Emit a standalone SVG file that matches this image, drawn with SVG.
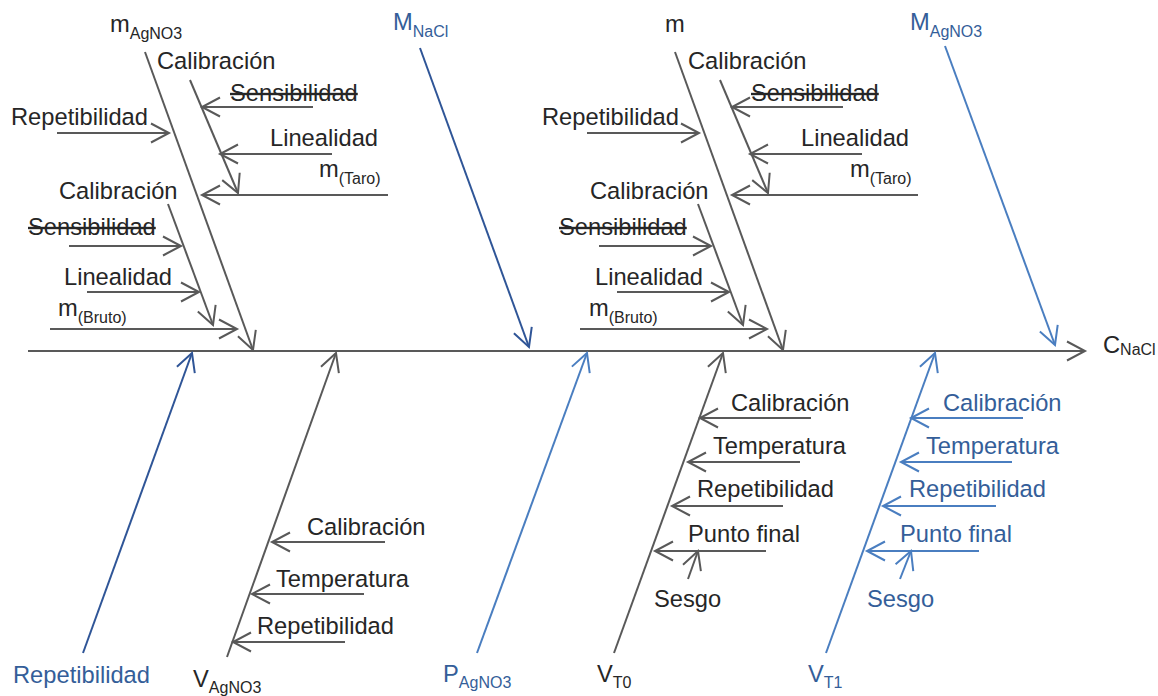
<svg xmlns="http://www.w3.org/2000/svg" width="1158" height="696" viewBox="0 0 1158 696">
<style>
.t{font-family:"Liberation Sans",Arial,sans-serif;font-size:23.7px;fill:#262626}
.b{fill:#345E99}
.s{font-size:16px}
.k{text-decoration:line-through}
.g{stroke:#595959;stroke-width:2;fill:none}
.db{stroke:#2F5597;stroke-width:2;fill:none}
.lb{stroke:#4A7EC0;stroke-width:2;fill:none}
.g{marker-end:url(#ag)}
.db{marker-end:url(#adb)}
.lb{marker-end:url(#alb)}
</style>
<defs>
<marker id="ag" markerUnits="userSpaceOnUse" markerWidth="22" markerHeight="22" viewBox="0 0 22 22" refX="19" refY="11" orient="auto"><path d="M1,1.5 L19,11 L1,20.5" fill="none" stroke="#595959" stroke-width="2"/></marker>
<marker id="adb" markerUnits="userSpaceOnUse" markerWidth="22" markerHeight="22" viewBox="0 0 22 22" refX="19" refY="11" orient="auto"><path d="M1,1.5 L19,11 L1,20.5" fill="none" stroke="#2F5597" stroke-width="2"/></marker>
<marker id="alb" markerUnits="userSpaceOnUse" markerWidth="22" markerHeight="22" viewBox="0 0 22 22" refX="19" refY="11" orient="auto"><path d="M1,1.5 L19,11 L1,20.5" fill="none" stroke="#4A7EC0" stroke-width="2"/></marker>
</defs>
<rect width="1158" height="696" fill="#ffffff"/>
<g id="connectors">
<path class="g" d="M28,351 L1085,351"/>
<path class="g" d="M145,52 L253,350"/>
<path class="g" d="M190,80 L238,193"/>
<path class="g" d="M313,107 L202,107"/>
<path class="g" d="M332,154 L220,154"/>
<path class="g" d="M388,195 L202,195"/>
<path class="g" d="M57,133 L169,133"/>
<path class="g" d="M168,204 L213,325"/>
<path class="g" d="M69,246 L181,246"/>
<path class="g" d="M87,292 L199,292"/>
<path class="g" d="M50,329 L237,329"/>
<path class="g" d="M675,52 L783,350"/>
<path class="g" d="M720,80 L768,193"/>
<path class="g" d="M843,107 L732,107"/>
<path class="g" d="M862,154 L750,154"/>
<path class="g" d="M918,195 L732,195"/>
<path class="g" d="M587,133 L699,133"/>
<path class="g" d="M698,204 L743,325"/>
<path class="g" d="M599,246 L711,246"/>
<path class="g" d="M617,292 L729,292"/>
<path class="g" d="M580,329 L767,329"/>
<path class="db" d="M420,48 L529,347"/>
<path class="lb" d="M945,46 L1055,345"/>
<path class="db" d="M83,653 L192,353"/>
<path class="g" d="M227,657 L336,353"/>
<path class="g" d="M385,542 L272,542"/>
<path class="g" d="M364,594 L252,594"/>
<path class="g" d="M345,642 L233,642"/>
<path class="lb" d="M477,653 L587,353"/>
<path class="g" d="M614,653 L723,353"/>
<path class="g" d="M811,418 L700,418"/>
<path class="g" d="M800,462 L688,462"/>
<path class="g" d="M783,506 L672,506"/>
<path class="g" d="M766,551 L655,551"/>
<path class="g" d="M688,579 L698,551"/>
<path class="lb" d="M826,653 L935,353"/>
<path class="lb" d="M1023,418 L911,418"/>
<path class="lb" d="M1012,462 L901,462"/>
<path class="lb" d="M996,506 L883,506"/>
<path class="lb" d="M979,551 L867,551"/>
<path class="lb" d="M900,579 L911,551"/>
</g>
<g id="n-cnacl"><text class="t" x="1103" y="353">C<tspan class="s" dy="2">NaCl</tspan></text></g>
<g id="n-magno3"><text class="t" x="110" y="32">m<tspan class="s" dy="7">AgNO3</tspan></text></g>
<g id="n-mag-cal"><text class="t" x="157" y="69">Calibración</text></g>
<g id="n-mag-sens"><text class="t k" x="230" y="101">Sensibilidad</text></g>
<g id="n-mag-lin"><text class="t" x="270" y="146">Linealidad</text></g>
<g id="n-mag-taro"><text class="t" x="319" y="177">m<tspan class="s" dy="7">(Taro)</tspan></text></g>
<g id="n-mag-rep"><text class="t" x="11" y="125">Repetibilidad</text></g>
<g id="n-mag-cal2"><text class="t" x="59" y="199">Calibración</text></g>
<g id="n-mag-sens2"><text class="t k" x="28" y="235">Sensibilidad</text></g>
<g id="n-mag-lin2"><text class="t" x="64" y="285">Linealidad</text></g>
<g id="n-mag-bruto"><text class="t" x="58" y="316">m<tspan class="s" dy="7">(Bruto)</tspan></text></g>
<g id="n-m"><text class="t" x="665" y="32">m</text></g>
<g id="n-m-cal"><text class="t" x="688" y="69">Calibración</text></g>
<g id="n-m-sens"><text class="t k" x="751" y="101">Sensibilidad</text></g>
<g id="n-m-lin"><text class="t" x="801" y="146">Linealidad</text></g>
<g id="n-m-taro"><text class="t" x="850" y="177">m<tspan class="s" dy="7">(Taro)</tspan></text></g>
<g id="n-m-rep"><text class="t" x="542" y="125">Repetibilidad</text></g>
<g id="n-m-cal2"><text class="t" x="590" y="199">Calibración</text></g>
<g id="n-m-sens2"><text class="t k" x="559" y="235">Sensibilidad</text></g>
<g id="n-m-lin2"><text class="t" x="595" y="285">Linealidad</text></g>
<g id="n-m-bruto"><text class="t" x="589" y="316">m<tspan class="s" dy="7">(Bruto)</tspan></text></g>
<g id="n-mnacl"><text class="t b" x="393" y="30">M<tspan class="s" dy="7">NaCl</tspan></text></g>
<g id="n-Magno3"><text class="t b" x="910" y="30">M<tspan class="s" dy="7">AgNO3</tspan></text></g>
<g id="n-rep"><text class="t b" x="13" y="683">Repetibilidad</text></g>
<g id="n-vagno3"><text class="t" x="193" y="687">V<tspan class="s" dy="6">AgNO3</tspan></text></g>
<g id="n-va-cal"><text class="t" x="307" y="535">Calibración</text></g>
<g id="n-va-temp"><text class="t" x="276" y="587">Temperatura</text></g>
<g id="n-va-rep"><text class="t" x="257" y="634">Repetibilidad</text></g>
<g id="n-pagno3"><text class="t b" x="443" y="682">P<tspan class="s" dy="6">AgNO3</tspan></text></g>
<g id="n-vt0"><text class="t" x="597" y="682">V<tspan class="s" dy="6">T0</tspan></text></g>
<g id="n-vt0-cal"><text class="t" x="731" y="411">Calibración</text></g>
<g id="n-vt0-temp"><text class="t" x="713" y="454">Temperatura</text></g>
<g id="n-vt0-rep"><text class="t" x="697" y="497">Repetibilidad</text></g>
<g id="n-vt0-pf"><text class="t" x="688" y="542">Punto final</text></g>
<g id="n-vt0-ses"><text class="t" x="654" y="607">Sesgo</text></g>
<g id="n-vt1"><text class="t b" x="808" y="682">V<tspan class="s" dy="6">T1</tspan></text></g>
<g id="n-vt1-cal"><text class="t b" x="943" y="411">Calibración</text></g>
<g id="n-vt1-temp"><text class="t b" x="926" y="454">Temperatura</text></g>
<g id="n-vt1-rep"><text class="t b" x="909" y="497">Repetibilidad</text></g>
<g id="n-vt1-pf"><text class="t b" x="900" y="542">Punto final</text></g>
<g id="n-vt1-ses"><text class="t b" x="867" y="607">Sesgo</text></g>
</svg>
